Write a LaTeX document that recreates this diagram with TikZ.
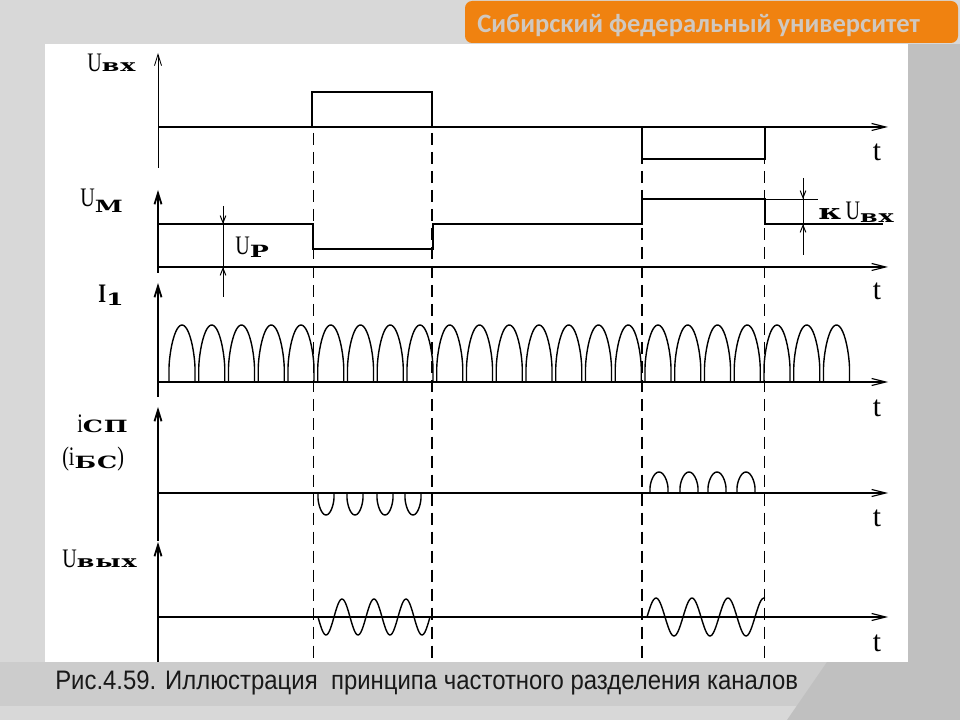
\documentclass[tikz,border=0pt]{standalone}
\usepackage{fontspec}
\setmainfont{Liberation Serif}
\newfontfamily\CaptionFont[FakeStretch=0.895]{Liberation Sans}
\newfontfamily\HeaderFont{Carlito}
\newfontfamily\AxisFont[FakeStretch=0.75]{Liberation Serif}
\newfontfamily\IndexFont[FakeStretch=1.5,LetterSpace=6]{DejaVu Serif}
\usetikzlibrary{arrows.meta,positioning}
\newcommand{\ChannelChartPx}{0.025}
\newcommand{\Idx}[2][0pt]{\raisebox{-#1}{\IndexFont\bfseries\fontsize{12}{12}\selectfont #2}}
\definecolor{SfuOrange}{RGB}{240,130,16}
\definecolor{SfuHeadText}{RGB}{208,200,192}
\definecolor{SlideGray}{RGB}{216,216,216}
\definecolor{SlideDark}{RGB}{192,192,192}
\definecolor{SlideLow}{RGB}{204,204,204}

\begin{document}
\begin{tikzpicture}[x=\ChannelChartPx cm,y=-\ChannelChartPx cm,
		sig/.style={line width=2.1pt},
		thinline/.style={line width=0.7pt},
		vaxis/.style={line width=1.3pt,-{Straight Barb[length=8pt,width=5pt]}},
		haxis/.style={line width=0.8pt,-{Straight Barb[length=10pt,width=5pt]}},
		dimtip/.style={line width=0.7pt,-{Straight Barb[length=5pt,width=4pt]}},
		dashthin/.style={line width=0.7pt,dash pattern=on 8.5pt off 5pt},
		dashthick/.style={line width=1.5pt,dash pattern=on 8.5pt off 5pt},
		wave/.style={line width=1pt},
		lbl/.style={inner sep=0pt,anchor=base west,font=\AxisFont\fontsize{19}{19}\selectfont},
		tlbl/.style={inner sep=0pt,font=\fontsize{21}{21}\selectfont}]
	\useasboundingbox (0,0) rectangle (960,720);
	\fill[SlideGray] (0,0) rectangle (960,720);
	\fill[SlideLow] (0,662) rectangle (960,706);
	\fill[SlideDark] (908,44) rectangle (960,720);
	\fill[SlideDark] (827,662) -- (960,662) -- (960,720) -- (787,720) -- cycle;
	\fill[white] (45,44) rectangle (908,662);
	\fill[SfuOrange, rounded corners=5pt] (465,1) rectangle (958,43);
	\node[anchor=base west, inner sep=0pt, text=SfuHeadText, font=\HeaderFont\bfseries\fontsize{18.9}{18.9}\selectfont] (Header) at (477,33) {Сибирский федеральный университет};
	\node[anchor=base west, inner sep=0pt, text=black!90, font=\CaptionFont\fontsize{19}{19}\selectfont] (Caption) at (55,689) {Рис.4.59. Иллюстрация\ \ принципа частотного разделения каналов};
	\foreach \xx/\st in {313/dashthin,432/dashthick,642/dashthick,764/dashthin}
		\draw[\st] (\xx,133) -- (\xx,662);
	\draw[line width=0.6pt,-{Straight Barb[length=8pt,width=5pt]}] (158,168) -- (158,53);
	\draw[vaxis] (158,273) -- (158,190);
	\draw[vaxis] (158,397) -- (158,283);
	\draw[vaxis] (158,541) -- (158,407);
	\draw[vaxis] (158,662) -- (158,542);
	\draw[sig] (158,127) -- (874,127);
	\draw[haxis] (860,127) -- (888,127);
	\foreach \yy in {267,382,493,617}
		\draw[haxis] (158,\yy) -- (888,\yy);
	\draw[sig] (312,127) -- (312,92) -- (432,92) -- (432,127);
	\draw[sig] (642,127) -- (642,159) -- (765,159) -- (765,127);
	\draw[sig] (158,224) -| (313,249) -| (433,224) -| (642,199) -| (765,224) -- (883,224);
	\draw[thinline] (223,208) -- (223,297);
	\draw[dimtip] (223,206) -- (223,224);
	\draw[dimtip] (223,290) -- (223,267);
	\draw[thinline] (765,199) -- (818,199);
	\draw[thinline] (803,178) -- (803,255);
	\draw[dimtip] (803,180) -- (803,199);
	\draw[dimtip] (803,246) -- (803,224);
	\foreach \k in {0,...,22}{
		\pgfmathsetmacro\a{169+\k*29.75}
		\draw[wave] (\a,382) -- plot[domain=0:180,samples=30] ({\a+13-13*cos(\x)},{368-43*pow(sin(\x),1.3)}) -- ({\a+26},382);
	}
	\foreach \a in {318,347,377,405}
		\draw[wave] (\a,493) -- plot[domain=0:180,samples=20] ({\a+8-8*cos(\x)},{498+17*pow(sin(\x),1.3)}) -- ({\a+16},493);
	\foreach \a in {650,680,708,737}
		\draw[wave] (\a,493) -- plot[domain=0:180,samples=20] ({\a+9-9*cos(\x)},{488-16*pow(sin(\x),1.3)}) -- ({\a+18},493);
	\draw[wave] plot[domain=0:112,samples=90] ({318+\x},{617+18*sin(11.25*\x)});
	\draw[wave] plot[domain=0:118,samples=90] ({647+\x},{617-19*sin(10*\x)});
	\node[lbl] (Uin) at (87,72) {U\Idx{вх}};
	\node[lbl] (Um) at (80,207) {U\Idx[4pt]{М}};
	\node[lbl] (Ur) at (235,255) {U\Idx[2pt]{Р}};
	\node[lbl] (Ione) at (98,303) {\bfseries I\Idx[1.5pt]{1}};
	\node[lbl] (Isp) at (77,433) {i\Idx{СП}};
	\node[lbl] (Ibs) at (62,466) {(i\Idx[2pt]{БС})};
	\node[lbl] (Uout) at (62,567) {U\Idx{вых}};
	\node[lbl] (kUin) at (818,220) {{\IndexFont\bfseries\fontsize{15}{15}\selectfont к}\,U\Idx[1.5pt]{вх}};
	\foreach \yy [count=\i] in {152,291,408,518,643}
		\node[tlbl] (t\i) at (877,\yy) {t};
\end{tikzpicture}
\end{document}
